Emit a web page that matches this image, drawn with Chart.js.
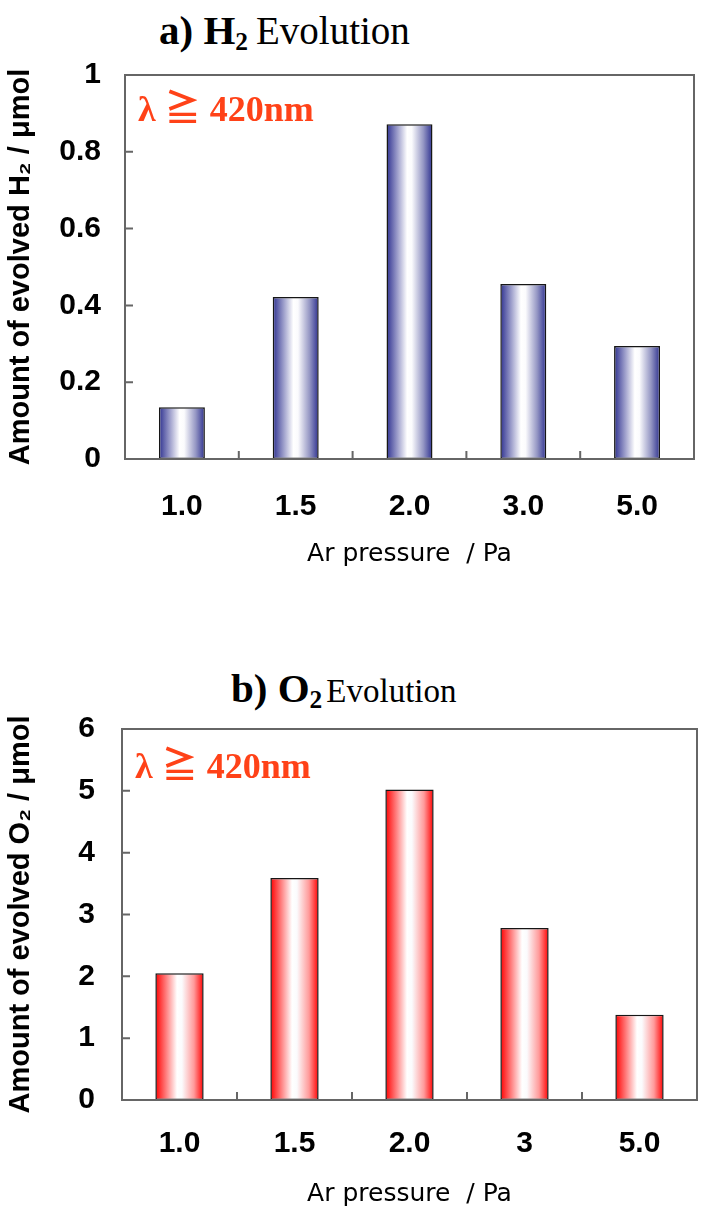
<!DOCTYPE html>
<html>
<head>
<meta charset="utf-8">
<script src="https://cdn.jsdelivr.net/npm/chart.js@4"></script>
<style>
  body { margin: 0; background: #fff; width: 701px; height: 1209px; position: relative; overflow: hidden; }
  .panel { position: absolute; left: 0; }
  .ttl { position: absolute; font-family: "Liberation Serif", "Times New Roman", serif; color: #000; white-space: nowrap; line-height: 1; }
  .ttl b { font-weight: bold; font-size: 41px; }
  .ttl sub { font-size: 0.62em; vertical-align: -0.22em; }
</style>
</head>
<body>
<div class="ttl" style="left:159px; top:10px;"><b>a) H<sub>2</sub></b>&nbsp;&nbsp;<span style="font-size:39px">Evolution</span></div>
<div class="panel" style="top:0;"><canvas id="chartH2" width="701" height="600"></canvas></div>
<div class="ttl" style="left:231px; top:668px;"><b>b) O<sub>2</sub></b>&nbsp;<span style="font-size:33px">Evolution</span></div>
<div class="panel" style="top:600px;"><canvas id="chartO2" width="701" height="609"></canvas></div>
<script>
// data
const pressureH2 = ['1.0', '1.5', '2.0', '3.0', '5.0'];
const h2Amount = [0.135, 0.422, 0.872, 0.456, 0.294];
const pressureO2 = ['1.0', '1.5', '2.0', '3', '5.0'];
const o2Amount = [2.05, 3.59, 5.02, 2.78, 1.38];
const h2Axis = { min: 0, max: 1, step: 0.2 };
const o2Axis = { min: 0, max: 6, step: 1 };
const noteText = 'λ ≧ 420nm';

const sans = '"Liberation Sans", Arial, sans-serif';

// horizontal "cylinder" shading for each bar
function barShade(edge, mid, pct) {
    return function (ctx) {
        const xs = ctx.chart.scales.x;
        if (!xs || ctx.dataIndex === undefined || !xs.ticks || !xs.ticks.length) return edge;
        const c = xs.getPixelForValue(ctx.dataIndex);
        const half = xs.width / xs.ticks.length * pct / 2;
        if (!isFinite(c) || !isFinite(half) || half <= 0) return edge;
        const g = ctx.chart.ctx.createLinearGradient(c - half, 0, c + half, 0);
        g.addColorStop(0, edge);
        g.addColorStop(0.45, '#ffffff');
        g.addColorStop(0.55, '#fbfbfd');
        g.addColorStop(0.8, mid);
        g.addColorStop(1, edge);
        return g;
    };
}

// plot frame, inward tick marks and the wavelength note
const framePlugin = {
    id: 'frame',
    afterDatasetsDraw(chart, args, opts) {
        const { ctx, chartArea: a, scales } = chart;
        ctx.save();
        ctx.strokeStyle = '#666';
        ctx.lineWidth = 2;
        ctx.strokeRect(a.left, a.top, a.right - a.left, a.bottom - a.top);

        ctx.beginPath();
        scales.y.ticks.forEach(t => {
            if (t.value <= scales.y.min || t.value >= scales.y.max) return;
            const y = scales.y.getPixelForValue(t.value);
            ctx.moveTo(a.left, y);
            ctx.lineTo(a.left + 8, y);
        });
        for (let i = 1; i < scales.x.ticks.length; i++) {
            const x = (scales.x.getPixelForTick(i - 1) + scales.x.getPixelForTick(i)) / 2;
            ctx.moveTo(x, a.bottom);
            ctx.lineTo(x, a.bottom - 8);
        }
        ctx.stroke();

        ctx.fillStyle = '#ff4218';
        ctx.font = 'bold 36px "Liberation Serif", "Noto Sans CJK JP", serif';
        ctx.textBaseline = 'alphabetic';
        ctx.fillText(noteText, a.left + 13, a.top + opts.noteY);
        ctx.restore();
    }
};

function makeChart(id, labels, values, axis, yTitle, o) {
    return new Chart(document.getElementById(id), {
        type: 'bar',
        data: {
            labels: labels,
            datasets: [{
                data: values,
                backgroundColor: barShade(o.edge, o.mid, o.barPct),
                borderColor: '#161616',
                borderWidth: 1.5,
                borderSkipped: false,
                categoryPercentage: 1,
                barPercentage: o.barPct
            }]
        },
        options: {
            responsive: false,
            animation: false,
            layout: { padding: { top: o.top, right: o.right, left: 0, bottom: 0 } },
            plugins: {
                legend: { display: false },
                tooltip: { enabled: false },
                frame: { noteY: o.noteY }
            },
            scales: {
                x: {
                    grid: { display: false, drawTicks: false },
                    border: { display: false },
                    ticks: { color: '#000', padding: o.xPad, maxRotation: 0, font: { family: sans, size: 30, weight: 'bold' } },
                    title: {
                        display: true, text: 'Ar pressure  / Pa', color: '#000',
                        font: { family: '"DejaVu Sans", sans-serif', size: 25 },
                        padding: { top: 0, bottom: o.xTitlePad }
                    },
                    afterFit(s) { s.height = o.xHeight; }
                },
                y: {
                    min: axis.min, max: axis.max,
                    grid: { display: false, drawTicks: false },
                    border: { display: false },
                    ticks: {
                        stepSize: axis.step, color: '#000', padding: o.yPad,
                        font: { family: sans, size: 30, weight: 'bold' },
                        callback: v => String(Number(v.toFixed(1)))
                    },
                    title: {
                        display: true, text: yTitle, color: '#000',
                        font: { family: sans, size: 29, weight: 'bold' },
                        padding: { top: 4, bottom: 0 }
                    },
                    afterFit(s) { s.width = o.left; }
                }
            }
        },
        plugins: [framePlugin]
    });
}

makeChart('chartH2', pressureH2, h2Amount, h2Axis, 'Amount of evolved H₂ / μmol', {
    edge: '#2e3190', mid: '#9597c4', barPct: 0.404,
    top: 75, right: 7, left: 125, xHeight: 141, xPad: 30, xTitlePad: 31, yPad: 24, noteY: 46
});
makeChart('chartO2', pressureO2, o2Amount, o2Axis, 'Amount of evolved O₂ / μmol', {
    edge: '#ff0000', mid: '#ff9a9a', barPct: 0.42,
    top: 129, right: 4, left: 122, xHeight: 109, xPad: 26, xTitlePad: 0, yPad: 27, noteY: 49
});
</script>
</body>
</html>
